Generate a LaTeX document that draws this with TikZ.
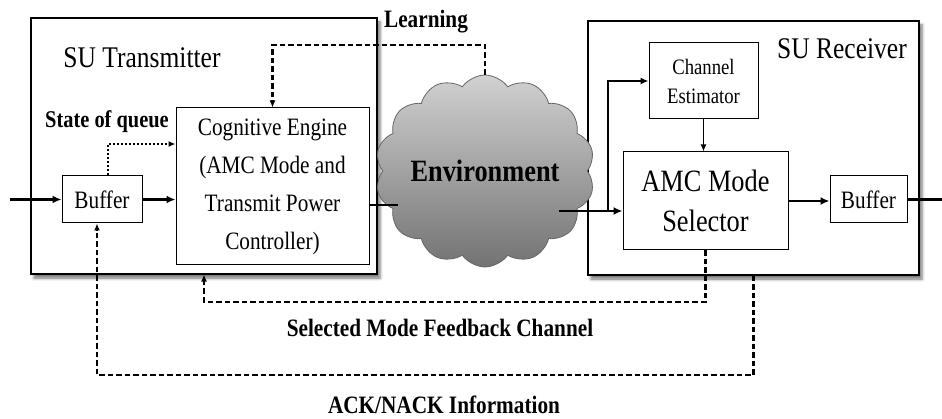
\documentclass[tikz,border=0pt]{standalone}
\usepackage{fontspec}
\setmainfont[FakeStretch=0.85]{Liberation Serif}
\usetikzlibrary{arrows.meta, shapes.symbols, shadows.blur, calc}

\begin{document}
\begin{tikzpicture}[x=1pt, y=-1pt,
  outer/.style={draw, line width=1.2pt, fill=white,
    blur shadow={shadow xshift=3pt, shadow yshift=-4pt, shadow blur radius=3pt, shadow opacity=55}},
  blockbox/.style={draw, line width=1pt, fill=white, inner sep=0pt, align=center},
  plain/.style={inner sep=0pt, align=center},
  flow/.style={line width=2.8pt, -{Latex[length=9pt,width=8pt]}},
  wire/.style={line width=2.8pt},
  branchflow/.style={line width=2pt, -{Latex[length=8pt,width=7pt]}},
  thinflow/.style={line width=1.4pt, -{Latex[length=7pt,width=6pt]}},
  dashflow/.style={line width=2.4pt, dash pattern=on 5.5pt off 3pt, -{Latex[length=7pt,width=6pt]}},
  dotflow/.style={line width=2.2pt, dash pattern=on 2pt off 2pt, -{Latex[length=7pt,width=6pt]}},
]
\useasboundingbox (0,0) rectangle (942,419);

% enclosing boxes
\node[outer, minimum width=346pt, minimum height=256pt] (tx) at (204,146) {};
\node[outer, minimum width=331pt, minimum height=254pt] (rx) at (753.5,148) {};

\node[plain, font=\fontsize{30}{36}\selectfont] (txlabel) at (142,58) {SU Transmitter};
\node[plain, font=\fontsize{30}{36}\selectfont] (rxlabel) at (842,49) {SU Receiver};

% transmitter blocks
\node[blockbox, minimum width=80pt, minimum height=47pt, font=\fontsize{25}{30}\selectfont] (bufL) at (102,199.5) {Buffer};
\node[blockbox, minimum width=193pt, minimum height=157pt, font=\fontsize{25}{38}\selectfont] (ce) at (272.5,186.5)
  {Cognitive Engine\\(AMC Mode and\\Transmit Power\\Controller)};
\node[plain, font=\bfseries\fontsize{24}{28}\selectfont] (queue) at (107,122) {State of queue};

% environment cloud
\node[cloud, cloud puffs=14, cloud puff arc=110, cloud ignores aspect,
  minimum width=184pt, minimum height=192pt, draw=black!60, line width=0.8pt,
  top color=black!18, middle color=black!30, bottom color=black!55,
  font=\bfseries\fontsize{31}{36}\selectfont] (env) at (485,171) {Environment};
\node[plain, font=\bfseries\fontsize{25}{28}\selectfont] (learn) at (426,22) {Learning};

% receiver blocks
\node[blockbox, minimum width=109pt, minimum height=76pt, font=\fontsize{22}{29}\selectfont] (chest) at (703.5,81) {Channel\\Estimator};
\node[blockbox, minimum width=165pt, minimum height=98pt, font=\fontsize{31}{40}\selectfont] (amc) at (705.5,201) {AMC Mode\\Selector};
\node[blockbox, minimum width=77pt, minimum height=47pt, font=\fontsize{25}{30}\selectfont] (bufR) at (868.5,199.5) {Buffer};

% feedback labels
\node[plain, font=\bfseries\fontsize{25}{30}\selectfont] (fblabel) at (440,328) {Selected Mode Feedback Channel};
\node[plain, font=\bfseries\fontsize{25}{30}\selectfont] (acklabel) at (444,405) {ACK/NACK Information};

% helper points
\coordinate (in) at (10,199.5);
\coordinate (out) at (942,199.5);
\coordinate (envIn) at (398,205);
\coordinate (envOut) at (559,211);
\coordinate (split) at (608,211);
\coordinate (learnRow) at (0,45);
\coordinate (fbRow) at (0,302);
\coordinate (ackRow) at (0,375);

% data path
\draw[flow] (in) -- (bufL.west);
\draw[flow] (bufL.east) -- (bufL.east -| ce.west);
\draw[wire] ($(ce.east)+(0,18.5)$) -- (envIn);
\draw[flow] (envOut) -- (envOut -| amc.west);
\draw[branchflow] (split) |- (chest.west);
\draw[thinflow] (chest.south) -- (chest.south |- amc.north);
\draw[flow] (amc.east) -- (amc.east -| bufR.west);
\draw[wire] (bufR.east) -- (out);

% control and feedback paths
\draw[dotflow] ($(bufL.north)+(6,0)$) |- ($(ce.west)+(0,-42.5)$);
\draw[dashflow] (env.north) |- (ce.north |- learnRow) -- (ce.north);
\draw[dashflow] (amc.south) -- (amc.south |- fbRow) -| (tx.south);
\draw[dashflow] (rx.south) -- (rx.south |- ackRow) -| ($(bufL.south)+(-5,0)$);
\end{tikzpicture}
\end{document}
